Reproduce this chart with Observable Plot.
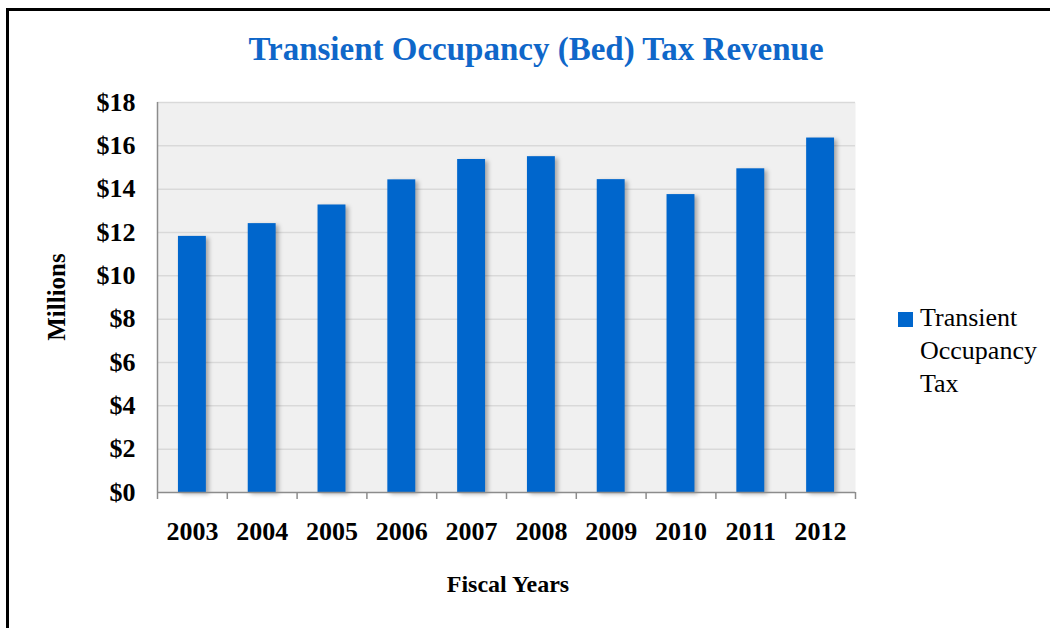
<!DOCTYPE html>
<html>
<head>
<meta charset="utf-8">
<script src="https://cdn.jsdelivr.net/npm/d3@7"></script>
<script src="https://cdn.jsdelivr.net/npm/@observablehq/plot@0.6"></script>
<style>
  body { margin: 0; background: #fff; }
  #wrap { position: relative; width: 1050px; height: 628px; overflow: hidden; font-family: "Liberation Serif", serif; }
  #chart { position: absolute; left: 0; top: 0; }
  .bt { position: absolute; left: 6px; top: 8px; width: 1044px; height: 2.5px; background: #000; }
  .bl { position: absolute; left: 6px; top: 8px; width: 2.5px; height: 620px; background: #000; }
  .title { position: absolute; left: 0; width: 1072px; top: 33px; text-align: center; font-family: "Liberation Serif", serif; font-size: 33px; line-height: 1; font-weight: bold; color: #0f67c9; white-space: nowrap; }
  .ylab { position: absolute; left: 56px; top: 297px; transform: translate(-50%, -50%) rotate(-90deg); font-family: "Liberation Serif", serif; font-size: 25px; line-height: 1; font-weight: bold; white-space: nowrap; }
  .xlab { position: absolute; left: 508px; top: 584px; transform: translate(-50%, -50%); font-family: "Liberation Serif", serif; font-size: 24px; line-height: 1; font-weight: bold; white-space: nowrap; }
  .legend { position: absolute; left: 898px; top: 301px; }
  .legend .sw { position: absolute; left: 0; top: 11px; width: 15px; height: 15px; background: #0066cc; }
  .legend .tx { position: absolute; left: 22px; top: 0; width: 130px; font-family: "Liberation Serif", serif; font-size: 26px; line-height: 33px; color: #000; }
</style>
</head>
<body>
<div id="wrap">
  <div id="chart"></div>
  <div class="bt"></div>
  <div class="bl"></div>
  <div class="title" id="title"></div>
  <div class="ylab" id="ylab"></div>
  <div class="xlab" id="xlab"></div>
  <div class="legend"><div class="sw"></div><div class="tx" id="legtx"></div></div>
</div>
<script>
const years = ["2003", "2004", "2005", "2006", "2007", "2008", "2009", "2010", "2011", "2012"];
const revenue = [11.82, 12.41, 13.27, 14.43, 15.37, 15.50, 14.44, 13.75, 14.94, 16.36];
const yTicks = [0, 2, 4, 6, 8, 10, 12, 14, 16, 18];
const seriesName = "Transient Occupancy Tax";
const titleText = "Transient Occupancy (Bed) Tax Revenue";
const yLabel = "Millions";
const xLabel = "Fiscal Years";

document.getElementById("title").textContent = titleText;
document.getElementById("ylab").textContent = yLabel;
document.getElementById("xlab").textContent = xLabel;
document.getElementById("legtx").innerHTML = seriesName.split(" ").join("<br>");

const data = years.map((year, i) => ({year, i, value: revenue[i]}));

const plot = Plot.plot({
  width: 1050,
  height: 628,
  marginLeft: 157,
  marginRight: 195,
  marginTop: 102,
  marginBottom: 136,
  style: {fontFamily: "'Liberation Serif', serif", fontSize: "26px", fontWeight: "bold", color: "#000", background: "transparent", overflow: "visible"},
  x: {type: "linear", domain: [0, years.length]},
  y: {domain: [0, 18]},
  marks: [
    Plot.frame({fill: "#f0f0f0"}),
    Plot.ruleY(yTicks.filter(d => d > 0), {stroke: "#d9d9d9", strokeWidth: 1.5}),
    Plot.rectY(data, {x1: d => d.i + 0.3, x2: d => d.i + 0.7, y: "value", fill: "#0066cc"}),
    Plot.ruleY([0], {stroke: "#8c8c8c", strokeWidth: 1.5}),
    Plot.ruleX([0], {stroke: "#8c8c8c", strokeWidth: 1.5}),
    Plot.axisY({ticks: yTicks, tickSize: 0, tickPadding: 22, tickFormat: d => "$" + d, fontSize: 26, fontWeight: "bold", fill: "#000", label: null}),
    Plot.axisX({ticks: d3.range(0, years.length + 1), tickSize: 7, tickFormat: () => "", stroke: "#8c8c8c", strokeWidth: 1.5, label: null}),
    Plot.axisX({ticks: data.map(d => d.i + 0.5), tickSize: 0, tickPadding: 29, tickFormat: d => years[Math.floor(d)], fontSize: 26, fontWeight: "bold", fill: "#000", label: null})
  ]
});
plot.querySelectorAll('g[aria-label="rect"]').forEach(g => {
  g.style.filter = "drop-shadow(3px 2px 2px rgba(0,0,0,0.3))";
});
document.getElementById("chart").appendChild(plot);
</script>
</body>
</html>
